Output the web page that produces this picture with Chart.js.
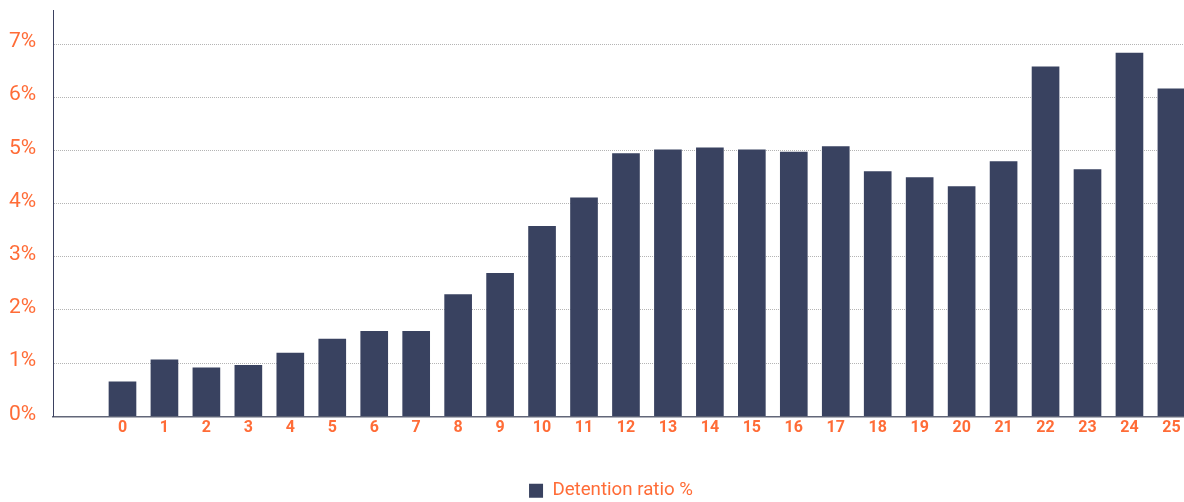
<!DOCTYPE html>
<html>
<head>
<meta charset="utf-8">
<script src="https://cdn.jsdelivr.net/npm/chart.js@4/dist/chart.umd.min.js"></script>
<style>
  html, body { margin: 0; padding: 0; background: #ffffff; }
  #wrap { width: 1184px; height: 502px; }
</style>
</head>
<body>
<div id="wrap"><canvas id="c" width="1184" height="502"></canvas></div>
<script>
const categories = [0, 1, 2, 3, 4, 5, 6, 7, 8, 9, 10, 11, 12, 13, 14, 15, 16, 17, 18, 19, 20, 21, 22, 23, 24, 25];
const detentionRatio = [0.65, 1.06, 0.91, 0.96, 1.19, 1.45, 1.60, 1.60, 2.29, 2.69, 3.57, 4.11, 4.94, 5.01, 5.05, 5.01, 4.97, 5.07, 4.60, 4.49, 4.32, 4.79, 6.57, 4.64, 6.83, 6.16];
const yTicks = [0, 1, 2, 3, 4, 5, 6, 7];
const seriesLabel = 'Detention ratio %';

const ORANGE = '#ff6c37';
const BAR = '#394260';

const points = categories.map((c, i) => ({ x: c, y: detentionRatio[i] }));

new Chart(document.getElementById('c'), {
  type: 'bar',
  data: {
    datasets: [{
      label: seriesLabel,
      data: points,
      backgroundColor: BAR,
      borderWidth: 0,
      barThickness: 27
    }]
  },
  options: {
    responsive: false,
    animation: false,
    layout: { padding: { top: 10, left: 38, right: 0, bottom: -8 } },
    plugins: {
      tooltip: { enabled: false },
      legend: {
        position: 'bottom',
        labels: {
          color: ORANGE,
          font: { family: 'Roboto', size: 18.7 },
          boxWidth: 14,
          boxHeight: 14,
          padding: 10
        }
      }
    },
    scales: {
      x: {
        type: 'linear',
        offset: false,
        min: -1.656,
        max: 25.3,
        afterBuildTicks: (scale) => { scale.ticks = categories.map(v => ({ value: v })); },
        afterFit: (scale) => { scale.height = 55; scale.paddingLeft = 0; scale.paddingRight = 0; },
        ticks: {
          color: ORANGE,
          font: { family: 'Roboto', size: 16, weight: 'bold' },
          padding: 2,
          autoSkip: false,
          maxRotation: 0,
          callback: (v) => String(v)
        },
        grid: { display: false, drawTicks: false },
        border: { display: true, color: '#626779', width: 1.5 }
      },
      y: {
        min: 0,
        max: 7.64,
        afterBuildTicks: (scale) => { scale.ticks = yTicks.map(v => ({ value: v })); },
        afterFit: (scale) => { scale.width = 15; scale.paddingTop = 0; scale.paddingBottom = 0; },
        ticks: {
          color: ORANGE,
          font: { family: 'Roboto', size: 21 },
          mirror: true,
          crossAlign: 'near',
          padding: -44,
          labelOffset: -2,
          callback: (v) => v + '%'
        },
        grid: {
          drawTicks: false,
          color: (ctx) => ctx.tick && ctx.tick.value === 0 ? 'rgba(0,0,0,0)' : '#b4b4b4',
          lineWidth: 1
        },
        border: { display: true, color: '#3b4160', width: 1, dash: [1, 1] }
      }
    }
  }
});
</script>
</body>
</html>
